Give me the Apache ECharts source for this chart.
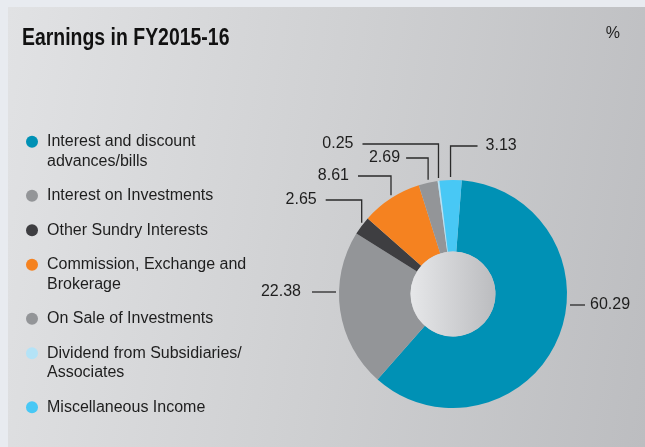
<!DOCTYPE html>
<html>
<head>
<meta charset="utf-8">
<script src="https://cdn.jsdelivr.net/npm/echarts@6/dist/echarts.min.js"></script>
<style>
  html, body { margin: 0; padding: 0; background: #e8ebf0; }
  #main {
    position: absolute; left: 8px; top: 7px; width: 637px; height: 440px;
    background: linear-gradient(100deg, #e1e2e4 0%, #cfd0d2 50%, #bcbdc0 100%);
  }
</style>
</head>
<body>
<div id="main"></div>
<script>
// data
var categories = [
  'Interest and discount\nadvances/bills',
  'Interest on Investments',
  'Other Sundry Interests',
  'Commission, Exchange and\nBrokerage',
  'On Sale of Investments',
  'Dividend from Subsidiaries/\nAssociates',
  'Miscellaneous Income'
];
var shares = [60.29, 22.38, 2.65, 8.61, 2.69, 0.25, 3.13];
var colors = ['#0091b5', '#939598', '#3e3e41', '#f58220', '#939598', '#b4e3f7', '#48c8f5'];
var titleText = 'Earnings in FY2015-16';
var unitText = '%';

// pie geometry (chart px)
var cx = 445, cy = 287, rOut = 114, rIn = 42.5;
var bodyFont = '"Liberation Sans", Arial, sans-serif';
var ink = '#1e1e1e';

// where each value label sits, relative to the pie
var labelPlan = [
  { side: 'right', dy: 11, gap: 3, run: 15, tgap: 5 },
  { side: 'left', dy: -2, gap: 3, run: 24, tgap: 11 },
  { side: 'up', dy: -94, run: 36, dir: -1, tgap: 9 },
  { side: 'up', dy: -118, run: 33, dir: -1, tgap: 9 },
  { side: 'up', dy: -136, run: 22, dir: -1, tgap: 6 },
  { side: 'up', dy: -150, run: 76, dir: -1, tgap: 9 },
  { side: 'up', dy: -148, run: 27, dir: 1, tgap: 8 }
];

var rich = { g: { width: 9 }, s: { width: 21 } };
colors.forEach(function (c, i) {
  rich['d' + i] = { width: 12, height: 12, borderRadius: 6, backgroundColor: c };
});

var myChart = echarts.init(document.getElementById('main'));

var option = {
  backgroundColor: 'transparent',
  legend: {
    orient: 'vertical',
    left: 13, top: 125, padding: 0,
    icon: 'none', itemWidth: 0, itemGap: 15,
    selectedMode: false,
    data: categories,
    formatter: function (name) {
      var i = categories.indexOf(name);
      var lines = name.split('\n');
      var s = '{d' + i + '|}{g|}' + lines[0];
      if (lines[1]) s += '\n{s|}' + lines[1];
      return s;
    },
    textStyle: {
      fontFamily: bodyFont, fontSize: 16, lineHeight: 19.5, color: ink,
      rich: rich
    }
  },
  graphic: [
    {
      // condensed bold title
      type: 'text', x: 14, y: 19, scaleX: 0.81, silent: true,
      style: {
        text: titleText, fill: '#111',
        font: 'bold 24px ' + bodyFont,
        textVerticalAlign: 'top'
      }
    },
    {
      type: 'text', right: 25, top: 19, silent: true,
      style: { text: unitText, fill: ink, font: '16px ' + bodyFont }
    },
    {
      type: 'circle', silent: true, z: 10,
      shape: { cx: cx, cy: cy, r: rIn },
      style: {
        fill: new echarts.graphic.LinearGradient(0, 0, 1, 0, [
          { offset: 0, color: '#e6e7e9' },
          { offset: 1, color: '#bbbcbf' }
        ])
      }
    }
  ],
  series: [
    {
      type: 'pie',
      center: [cx, cy],
      radius: [rIn, rOut],
      startAngle: 85.6,
      clockwise: true,
      avoidLabelOverlap: false,
      silent: true,
      label: {
        show: true, position: 'outside',
        formatter: function (p) { return p.value.toFixed(2); },
        fontFamily: bodyFont, fontSize: 16, color: ink
      },
      labelLine: { show: true, lineStyle: { color: '#2a2a2a', width: 1.3 } },
      labelLayout: function (params) {
        var plan = labelPlan[params.dataIndex];
        var y, pts, x, align;
        if (plan.side === 'up') {
          var p0 = params.labelLinePoints[0];
          y = cy + plan.dy;
          var xEnd = p0[0] + plan.dir * plan.run;
          pts = [[p0[0], p0[1] - 3], [p0[0], y], [xEnd, y]];
          x = xEnd + plan.dir * plan.tgap;
          align = plan.dir < 0 ? 'right' : 'left';
        } else {
          var dir = plan.side === 'right' ? 1 : -1;
          y = cy + plan.dy;
          var x0 = cx + dir * (rOut + plan.gap);
          var x1 = x0 + dir * plan.run;
          pts = [[x0, y], [(x0 + x1) / 2, y], [x1, y]];
          x = x1 + dir * plan.tgap;
          align = dir < 0 ? 'right' : 'left';
        }
        return { x: x, y: y, align: align, verticalAlign: 'middle', labelLinePoints: pts };
      },
      data: categories.map(function (n, i) {
        return { name: n, value: shares[i], itemStyle: { color: colors[i] } };
      })
    }
  ]
};

myChart.setOption(option);
</script>
</body>
</html>
